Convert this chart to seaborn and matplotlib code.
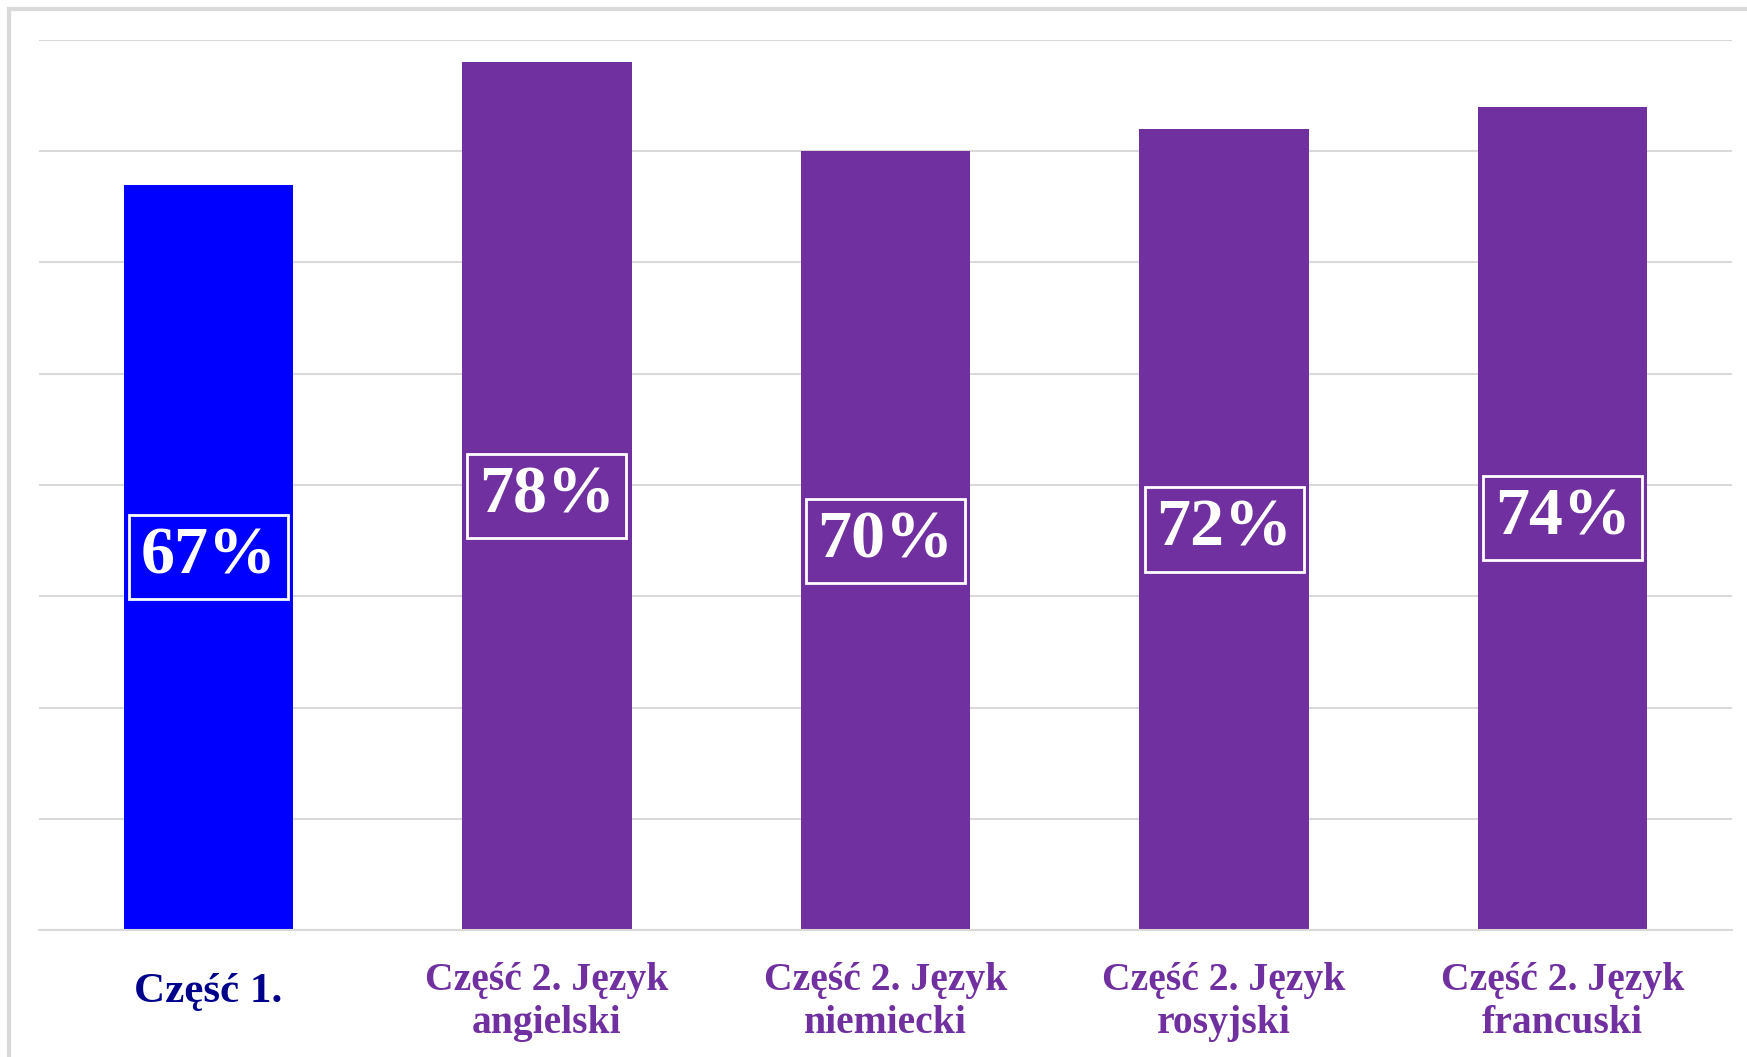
import matplotlib
matplotlib.use("Agg")
import matplotlib.pyplot as plt
import matplotlib.transforms as mtransforms
import seaborn as sns
import pandas as pd
from matplotlib.patches import Rectangle

# dane
categories = ["Część 1.", "Część 2. Język\nangielski", "Część 2. Język\nniemiecki",
              "Część 2. Język\nrosyjski", "Część 2. Język\nfrancuski"]
values = [0.67, 0.78, 0.70, 0.72, 0.74]
bar_colors = ["#0000FF", "#7030A0", "#7030A0", "#7030A0", "#7030A0"]
label_colors = ["#00008B", "#7030A0", "#7030A0", "#7030A0", "#7030A0"]
yticks = [0.0, 0.1, 0.2, 0.3, 0.4, 0.5, 0.6, 0.7, 0.8]

sns.set_theme(style="white")
plt.rcParams['font.family'] = ['Liberation Serif', 'DejaVu Serif']

df = pd.DataFrame({"cat": categories, "val": values})

fig = plt.figure(figsize=(17.47, 10.57), dpi=100)
W, H = 1747, 1057
ax = fig.add_axes([39 / W, 1 - 930 / H, (1732 - 39) / W, (930 - 40) / H])

# ramka wykresu (przycięta z prawej i dołu)
fig.patches.append(Rectangle((9 / W, -0.05), 1.2, 1 - 9 / H + 0.05, transform=fig.transFigure,
                             fill=False, ec="#D9D9D9", lw=3, zorder=0))

sns.barplot(data=df, x="cat", y="val", hue="cat", palette=dict(zip(categories, bar_colors)),
            legend=False, width=0.5, ax=ax, edgecolor="none", saturation=1)

ax.set_xlim(-0.5, 4.5)
ax.set_ylim(0, 0.8)
ax.set_yticks(yticks)
ax.set_yticklabels([])
ax.tick_params(axis="y", length=0)
ax.tick_params(axis="x", length=0, pad=23)
ax.yaxis.grid(True, color="#D9D9D9", lw=1.5)
ax.set_axisbelow(True)
for s in ["top", "right", "left"]:
    ax.spines[s].set_visible(False)
ax.spines["bottom"].set_color("#D9D9D9")
ax.spines["bottom"].set_linewidth(1.5)
ax.set_xlabel("")
ax.set_ylabel("")

for i, lbl in enumerate(ax.get_xticklabels()):
    lbl.set_color(label_colors[i])
    lbl.set_fontweight("bold")
    lbl.set_fontsize(31 if i == 0 else 28.5)
    lbl.set_linespacing(1.2)
    if i == 0:
        # pierwszy podpis nieco niżej
        lbl.set_transform(lbl.get_transform() +
                          mtransforms.ScaledTranslation(0, -0.11, fig.dpi_scale_trans))

for i, v in enumerate(values):
    ax.text(i, v / 2, f"{round(v * 100)}%", ha="center", va="center", color="white",
            fontsize=49, fontweight="bold",
            bbox=dict(boxstyle="square,pad=0.17", fc="none", ec="white", lw=2))

fig.savefig("out.png", dpi=100)
